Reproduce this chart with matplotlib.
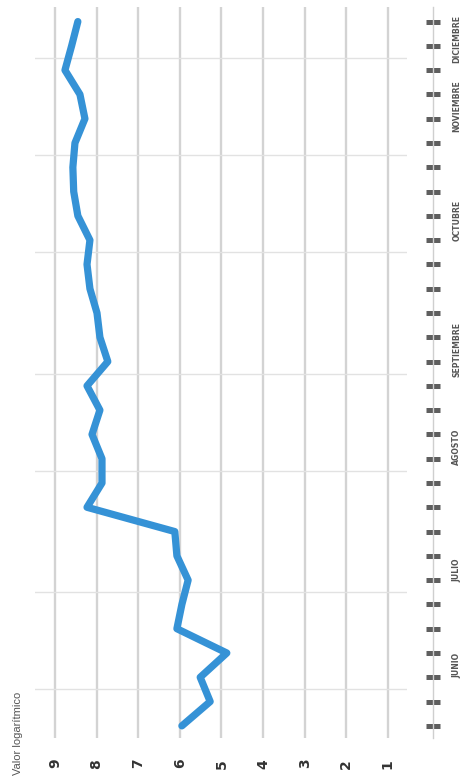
import numpy as np
import matplotlib.pyplot as plt
from matplotlib.ticker import FixedLocator

# weekly values (week 1 = first week of June), log scale value
weeks = np.arange(1, 31)
valores = [5.95, 5.27, 5.51, 4.87, 6.07, 5.95, 5.80, 6.07, 6.12, 8.23,
           7.87, 7.87, 8.11, 7.92, 8.23, 7.73, 7.92, 7.99, 8.16, 8.23,
           8.16, 8.45, 8.55, 8.57, 8.52, 8.28, 8.40, 8.76, 8.60, 8.45]

meses = ["JUNIO", "JULIO", "AGOSTO", "SEPTIEMBRE", "OCTUBRE", "NOVIEMBRE", "DICIEMBRE"]
mes_pos = [3.5, 7.4, 12.5, 16.5, 21.8, 26.5, 29.3]
limites_mes = [2.5, 6.5, 11.5, 15.5, 20.5, 24.5, 28.5]
escala = [1, 2, 3, 4, 5, 6, 7, 8, 9]

fig = plt.figure(figsize=(4.62, 7.78), dpi=100)
ax = fig.add_axes([35/462, 1 - 738/778, 372/462, 731/778])

# chart is drawn turned a quarter: time runs upward, value runs right to left
ax.plot(valores, weeks, color="#3592d6", lw=5.2,
        solid_joinstyle="round", solid_capstyle="round", zorder=3)

ax.set_xlim(9.48, 0.54)
ax.set_ylim(0.5, 30.6)

ax.set_xticks(escala)
ax.set_xticklabels([str(v) for v in escala], rotation=90, fontsize=10,
                   color="#333333", fontweight="bold")
ax.tick_params(axis="x", length=0, pad=15)
ax.grid(axis="x", color="#d3d3d3", lw=1.7)

ax.yaxis.set_ticks_position("right")
ax.set_yticks(weeks)
ax.yaxis.set_minor_locator(FixedLocator(limites_mes))
ax.tick_params(axis="y", which="major", direction="inout", length=10,
               width=3.6, color="#5f5f5f", labelright=False, labelleft=False)
ax.tick_params(axis="y", which="minor", length=0)
ax.grid(axis="y", which="minor", color="#e2e2e2", lw=1.0)

for s in ["top", "left", "bottom"]:
    ax.spines[s].set_visible(False)
ax.spines["right"].set_position(("outward", 18.7))
ax.spines["right"].set_color("#cfcfcf")
ax.spines["right"].set_linewidth(1.0)

for m, p in zip(meses, mes_pos):
    ax.text(1.134, p, m, transform=ax.get_yaxis_transform(), rotation=90,
            ha="center", va="center", fontsize=5.6, fontweight="bold",
            color="#555555", clip_on=False)

fig.text(18/462, 0.004, "Valor logarítmico", rotation=90, ha="center",
         va="bottom", fontsize=8, color="#555555", family="Liberation Sans")

fig.savefig("out.png", dpi=100)
